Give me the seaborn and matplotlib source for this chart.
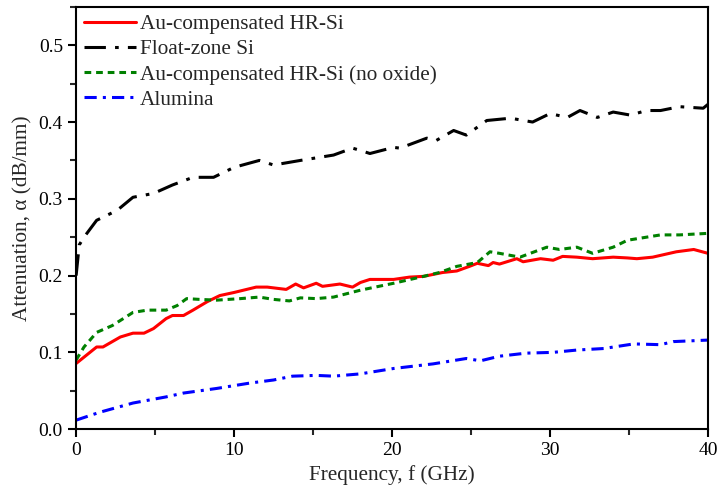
import numpy as np
import pandas as pd
import matplotlib
matplotlib.use("Agg")
import matplotlib.pyplot as plt
import seaborn as sns
from matplotlib.ticker import MultipleLocator

fz_x = [0, 0.2, 0.5, 1.3, 2.6, 3.6, 4.9, 6.1, 7.4, 8.7, 10, 11.6, 12.5, 14.2, 16.3, 17.5, 18, 18.6,
        20.1, 20.5, 22.2, 22.8, 23.9, 24.7, 26, 27.5, 28.9, 30, 31.1, 31.9, 33, 34, 35.1, 36.1, 37,
        38.2, 39.7, 40]
fz_y = [0.2, 0.24, 0.25, 0.272, 0.285, 0.302, 0.307, 0.318, 0.328, 0.328, 0.341, 0.35, 0.344, 0.35,
        0.357, 0.366, 0.363, 0.359, 0.367, 0.366, 0.379, 0.376, 0.389, 0.383, 0.402, 0.405, 0.4,
        0.411, 0.406, 0.415, 0.406, 0.413, 0.409, 0.415, 0.415, 0.42, 0.418, 0.423]

au_x = [0, 1.3, 1.7, 2.8, 3.6, 4.3, 4.9, 5.7, 6.1, 6.8, 7.4, 8.3, 9.1, 10, 11.4, 12.1, 13.3, 13.9,
        14.4, 15.2, 15.6, 16.7, 17.5, 18, 18.6, 20.1, 21.1, 22, 23.2, 24.1, 24.9, 25.4, 26.1, 26.4,
        26.8, 27.9, 28.3, 29.4, 30.2, 30.8, 31.7, 32.7, 34, 34.9, 35.5, 36.5, 38, 39.1, 40]
au_y = [0.0855, 0.107, 0.107, 0.12, 0.125, 0.125, 0.131, 0.144, 0.148, 0.148, 0.155, 0.166, 0.174,
        0.178, 0.185, 0.185, 0.182, 0.189, 0.184, 0.19, 0.186, 0.189, 0.185, 0.191, 0.195, 0.195,
        0.198, 0.199, 0.204, 0.206, 0.212, 0.216, 0.213, 0.217, 0.215, 0.222, 0.218, 0.222, 0.22,
        0.225, 0.224, 0.222, 0.224, 0.223, 0.222, 0.224, 0.231, 0.234, 0.229]

nox_x = [0, 0.5, 1.3, 2.3, 3.6, 4.5, 5.7, 6.4, 7, 7.8, 8.9, 10.4, 11.6, 12.5, 13.5, 14.2, 15.2, 16.3,
         18, 20.1, 22, 23, 24.1, 25.4, 26.2, 26.8, 28.1, 29.8, 30.6, 31.7, 32.7, 34, 34.9, 37, 38.2,
         40]
nox_y = [0.09, 0.107, 0.126, 0.135, 0.152, 0.155, 0.155, 0.161, 0.17, 0.169, 0.168, 0.17, 0.172,
         0.169, 0.167, 0.171, 0.17, 0.172, 0.181, 0.19, 0.199, 0.204, 0.212, 0.217, 0.231, 0.229,
         0.224, 0.237, 0.234, 0.237, 0.229, 0.237, 0.246, 0.253, 0.253, 0.255]

al_x = [0, 1.5, 3.6, 5.7, 6.8, 8.9, 11, 12.5, 13.7, 15.2, 16.3, 18, 20.1, 22.6, 24.7, 25.6, 26.8,
        28.5, 30.2, 31.7, 33.4, 35.3, 37, 37.8, 40]
al_y = [0.0117, 0.022, 0.034, 0.042, 0.047, 0.053, 0.06, 0.064, 0.069, 0.07, 0.069, 0.072, 0.079,
        0.085, 0.092, 0.089, 0.095, 0.099, 0.1, 0.103, 0.105, 0.111, 0.11, 0.114, 0.116]

sns.set_style("ticks")
plt.rcParams["font.family"] = ["Liberation Serif", "DejaVu Serif"]

fig, ax = plt.subplots(figsize=(7.18, 4.91), dpi=100)

series = [
    ("Au-compensated HR-Si", au_x, au_y, "red", None),
    ("Float-zone Si", fz_x, fz_y, "black", (7, 3, 1.2, 3)),
    ("Au-compensated HR-Si (no oxide)", nox_x, nox_y, "green", (2.2, 1.6)),
    ("Alumina", al_x, al_y, "blue", (4, 2, 1, 2)),
]

for name, xs, ys, col, dash in series:
    df = pd.DataFrame({"f": xs, "a": ys})
    sns.lineplot(data=df, x="f", y="a", ax=ax, color=col, lw=2.2, label=name, sort=False)
    if dash is not None:
        ax.lines[-1].set_dashes(dash)

ax.set_xlim(0, 40)
ax.set_ylim(0, 0.55)
ax.xaxis.set_major_locator(MultipleLocator(10))
ax.xaxis.set_minor_locator(MultipleLocator(5))
ax.yaxis.set_major_locator(MultipleLocator(0.1))
ax.yaxis.set_minor_locator(MultipleLocator(0.05))
ax.yaxis.set_major_formatter(plt.FormatStrFormatter("%.1f"))
ax.tick_params(which="major", direction="out", length=6, width=1.5, labelsize=14, colors="black")
ax.tick_params(which="minor", direction="out", length=4, width=1.5)
for sp in ax.spines.values():
    sp.set_linewidth(1.5)
    sp.set_color("black")

ax.set_xlabel("Frequency, f (GHz)", fontsize=15.3)
ax.set_ylabel("Attenuation, α (dB/mm)", fontsize=15.3)

ax.legend(loc="upper left", frameon=False, fontsize=15.3, handlelength=2.45,
          labelspacing=0.25, borderaxespad=0.15, handletextpad=0.2, borderpad=0.2)

fig.subplots_adjust(left=0.106, right=0.986, top=0.986, bottom=0.126)
fig.savefig("out.png", dpi=100)
